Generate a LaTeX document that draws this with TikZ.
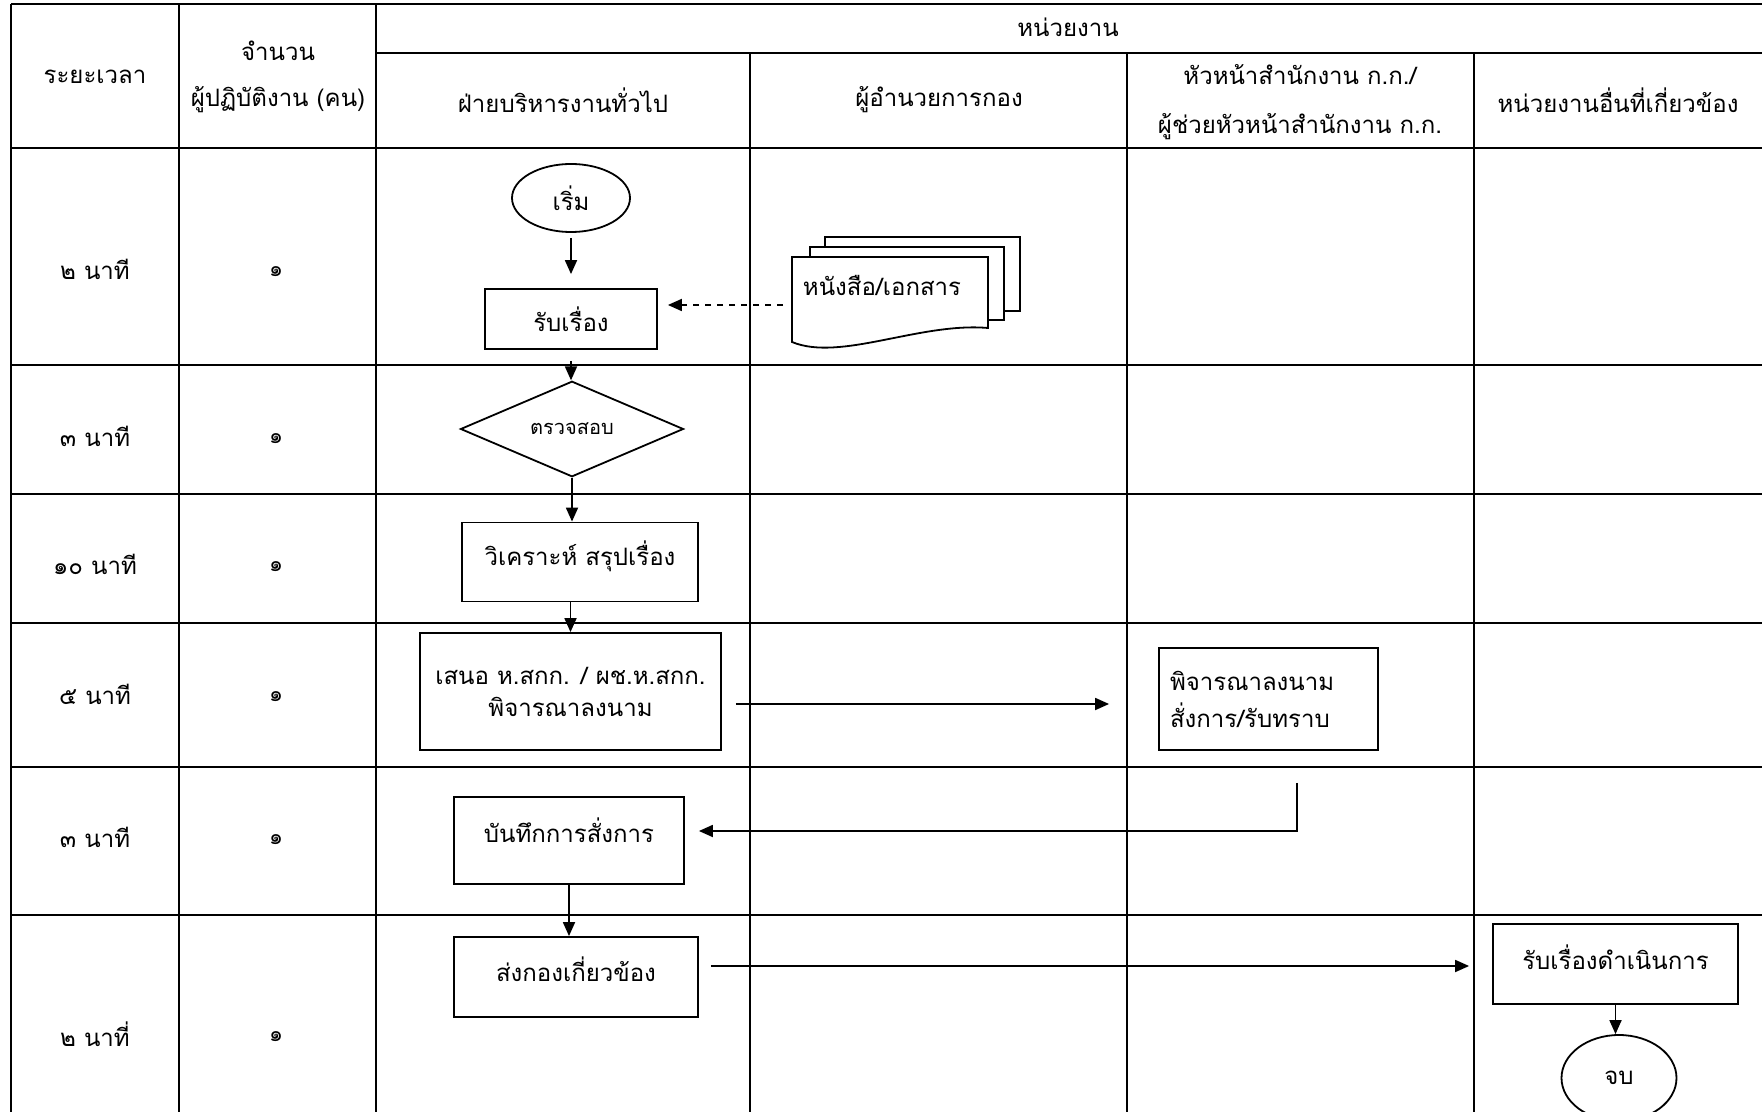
\documentclass[tikz,border=0pt]{standalone}
\usepackage{fontspec}
\newfontfamily\thaifont[Script=Thai]{Loma}
\usetikzlibrary{arrows.meta,shapes.geometric}

\begin{document}
\begin{tikzpicture}[
  x=0.5pt,
  y=-0.5pt,
  line join=miter,
  rowline/.style={draw=black,line width=1.4pt},
  colline/.style={draw=black,line width=1.0pt},
  txt/.style={font=\thaifont\fontsize{12}{23}\selectfont,inner sep=0pt,align=center},
  cell/.style={font=\thaifont\fontsize{12}{14}\selectfont,inner sep=0pt},
  box/.style={draw=black,line width=0.9pt,rectangle,inner sep=0pt,align=center,
    font=\thaifont\fontsize{12}{16}\selectfont},
  terminal/.style={draw=black,line width=0.9pt,ellipse,inner sep=0pt,
    font=\thaifont\fontsize{12}{14}\selectfont},
  decision/.style={draw=black,line width=0.9pt,diamond,inner sep=0pt,
    font=\thaifont\fontsize{10}{12}\selectfont},
  sheet/.style={draw=black,line width=0.9pt,fill=white},
  flow/.style={draw=black,line width=0.9pt,-{Triangle[length=7pt,width=6pt]}}
]
  \useasboundingbox (0,0) rectangle (1762,1112);
  \clip (0,0) rectangle (1762,1112);

  % Table frame: the page cuts it off on the right and at the bottom.
  \draw[rowline] (11,4) -- (1762,4);
  \draw[rowline] (376,53) -- (1762,53);
  \foreach \y in {148,365,494,623,767,915} {
    \draw[rowline] (11,\y) -- (1762,\y);
  }
  \foreach \x in {11,179,376} {
    \draw[colline] (\x,4) -- (\x,1112);
  }
  \foreach \x in {750,1127,1474} {
    \draw[colline] (\x,53) -- (\x,1112);
  }

  % Header cells.
  \node[txt] (hdtime) at (95,77) {ระยะเวลา};
  \node[txt] (hdstaff) at (278,77) {จำนวน\\ผู้ปฏิบัติงาน (คน)};
  \node[txt] (hdunit) at (1068,27) {หน่วยงาน};
  \node[txt] (hdgeneral) at (563,100) {ฝ่ายบริหารงานทั่วไป};
  \node[txt] (hddirector) at (939,100) {ผู้อำนวยการกอง};
  \node[txt,font=\thaifont\fontsize{12}{24.5}\selectfont] (hdhead) at (1300,102)
    {หัวหน้าสำนักงาน ก.ก./\\ผู้ช่วยหัวหน้าสำนักงาน ก.ก.};
  \node[txt] (hdother) at (1618,100) {หน่วยงานอื่นที่เกี่ยวข้อง};

  % Time and staff per step.
  \foreach \y/\t [count=\i] in {269/๒ นาที,436/๓ นาที,564/๑๐ นาที,694/๕ นาที,837/๓ นาที,1034/๒ นาที่} {
    \node[cell] (time\i) at (95,\y) {\t};
    \node[cell,font=\thaifont\fontsize{11}{13}\selectfont] (staff\i) at (276,\y+3) {๑};
  }

  % Stacked documents coming from the director's lane.
  \path[sheet] (825,237) rectangle (1020,311);
  \path[sheet] (810,247) rectangle (1004,320);
  \path[sheet] (792,342) -- (792,257) -- (988,257) -- (988,328)
    .. controls (920,322) and (840,362) .. (792,342) -- cycle;
  \node[cell] (docs) at (882,285) {หนังสือ/เอกสาร};
  \coordinate (docsheet) at (792,305);

  % Flow steps.
  \node[terminal,minimum width=59pt,minimum height=34pt] (start) at (571,198) {เริ่ม};
  \node[box,minimum width=86pt,minimum height=30pt] (receive) at (571,319) {รับเรื่อง};
  \node[decision,minimum width=111.5pt,minimum height=45.5pt] (check) at (572,429) {ตรวจสอบ};
  \node[box,minimum width=118pt,minimum height=39.5pt,text depth=9pt] (analyze) at (580,562)
    {วิเคราะห์ สรุปเรื่อง};
  \node[box,minimum width=150.5pt,minimum height=58.5pt] (propose) at (570.5,691.5)
    {เสนอ ห.สกก. / ผช.ห.สกก.\\พิจารณาลงนาม};
  \node[box,minimum width=109.5pt,minimum height=51pt,align=left,text width=98.5pt,
    inner xsep=5.5pt,font=\thaifont\fontsize{12}{18.5}\selectfont] (sign) at (1268.5,699)
    {พิจารณาลงนาม\\สั่งการ/รับทราบ};
  \node[box,minimum width=115pt,minimum height=43.5pt,text depth=10pt] (record) at (569,840.5)
    {บันทึกการสั่งการ};
  \node[box,minimum width=122pt,minimum height=40pt,text depth=8pt] (send) at (576,977)
    {ส่งกองเกี่ยวข้อง};
  \node[box,minimum width=122.5pt,minimum height=40pt,text depth=7pt] (other) at (1615.5,964)
    {รับเรื่องดำเนินการ};
  \node[terminal,minimum width=57.5pt,minimum height=43pt] (finish) at (1619,1078) {จบ};

  % Connectors.
  \draw[flow,shorten <=2.5pt,shorten >=7pt] (start.south) -- (start.south |- receive.north);
  \draw[flow,dashed] ([xshift=-4.5pt]docsheet) -- ([xshift=5pt,yshift=7pt]receive.east);
  \draw[flow,shorten <=5.5pt] (receive.south) -- (receive.south |- check.north);
  \draw[flow] (check.south) -- (check.south |- analyze.north);
  \draw[flow] (analyze.south -| propose.north) -- (propose.north);
  \draw[flow] ([xshift=7pt,yshift=-6.25pt]propose.east) -- ([xshift=-24.5pt,yshift=-2.5pt]sign.west);
  \draw[flow] ([xshift=14.25pt,yshift=-16pt]sign.south) |- ([xshift=7pt,yshift=4.75pt]record.east);
  \draw[flow] (record.south) -- (record.south |- send.north);
  \draw[flow] ([xshift=6pt,yshift=5.5pt]send.east) -- ([xshift=-11.5pt,yshift=-1pt]other.west);
  \draw[flow] (other.south) -- (other.south |- finish.north);
\end{tikzpicture}
\end{document}
